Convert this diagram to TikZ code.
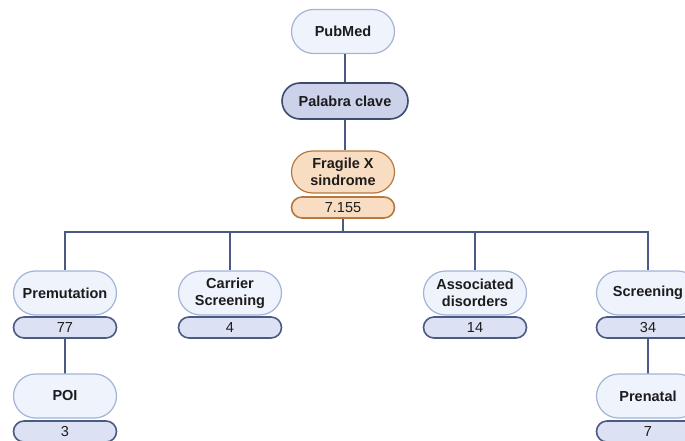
\documentclass[tikz,border=0pt]{standalone}
\usepackage{fontspec}
\setmainfont{Liberation Sans}
\usetikzlibrary{shapes.misc,positioning}
\definecolor{termfill}{HTML}{EEF3FC}
\definecolor{termline}{HTML}{A3B4D6}
\definecolor{keyfill}{HTML}{CBD2EA}
\definecolor{keyline}{HTML}{3D4B6E}
\definecolor{fxfill}{HTML}{F9DDC2}
\definecolor{fxline}{HTML}{B5793F}
\definecolor{countfill}{HTML}{DCE1F3}
\definecolor{countline}{HTML}{4A5A82}
\definecolor{linkcol}{HTML}{4A5A85}
\definecolor{inkcol}{HTML}{1C1C1C}

\begin{document}
\begin{tikzpicture}[x=1pt,y=-1pt,
	term/.style={rounded rectangle,draw=termline,fill=termfill,line width=1.2pt,
		minimum width=103pt,minimum height=44pt,inner sep=0pt,align=center,
		text=inkcol,font=\bfseries\fontsize{14.5}{17}\selectfont},
	count/.style={rounded rectangle,draw=countline,fill=countfill,line width=1.6pt,
		minimum width=103pt,minimum height=21pt,inner sep=0pt,
		text=inkcol,font=\fontsize{14.5}{16}\selectfont},
	link/.style={draw=linkcol,line width=1.6pt}]
\useasboundingbox (0,0) rectangle (685,441);
\clip (0,0) rectangle (685,441);
%%%  top chain
\node[term] (pubmed) at (343,31.5) {PubMed};
\node[term,fill=keyfill,draw=keyline,line width=1.6pt,
	minimum width=126pt,minimum height=36pt] (clave) at (345,101) {Palabra clave};
\node[term,fill=fxfill,draw=fxline,minimum height=42pt] (fx) at (343,172) {Fragile X\\sindrome};
\node[count,fill=fxfill,draw=fxline] (fxn) at (343,207.5) {7.155};
\draw[link] (clave.north) -- (clave.north |- pubmed.south);
\draw[link] (clave.south) -- (clave.south |- fx.north);

%%%%%%%%% categories %%%%%%%%
\foreach \x/\name/\txt/\num in {65/prem/Premutation/77,
	230/carr/{Carrier\\Screening}/4,
	475/asoc/{Associated\\disorders}/14,
	648/scr/Screening/34}{%
	\node[term] (\name) at (\x,293) {\txt};
	\node[count] (\name n) at (\x,327.5) {\num};
	\draw[link] (fxn.south) -- ++(0,13) -| (\name.north);
}

%%%%%%%%% sub terms %%%%%%%%
\node[term] (poi) at (65,396) {POI};
\node[count] (poin) at (65,431.5) {3};
\node[term] (pren) at (648,396) {Prenatal};
\node[count] (prenn) at (648,431.5) {7};
\draw[link] (premn) -- (poi);
\draw[link] (scrn) -- (pren);
\end{tikzpicture}
\end{document}
